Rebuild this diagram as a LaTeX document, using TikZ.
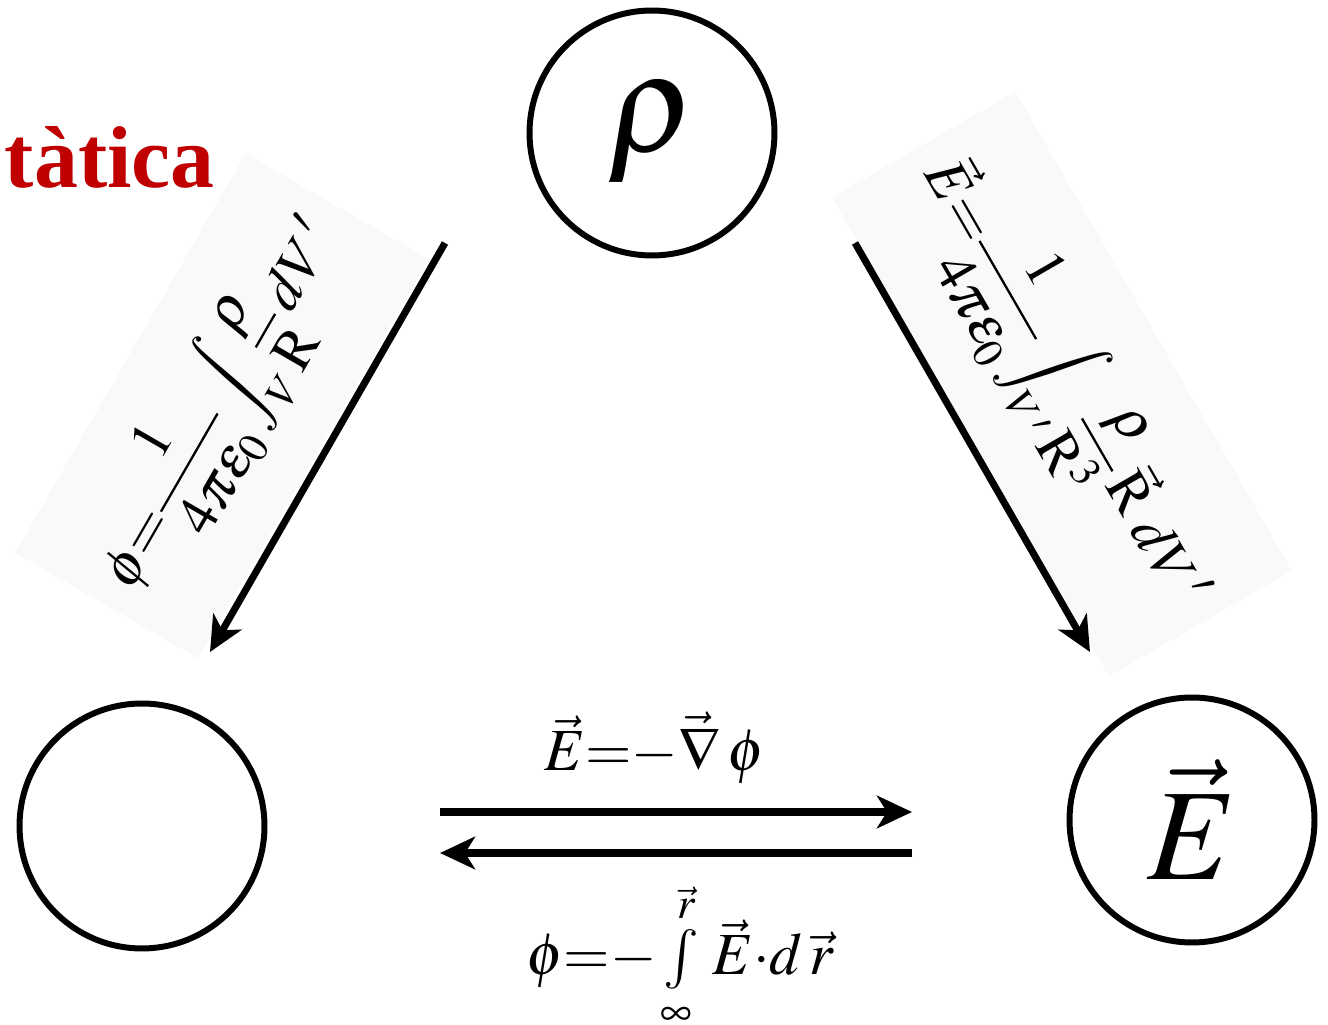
\documentclass[tikz,border=0pt]{standalone}
\usepackage{amsmath,amssymb}
\usepackage{mathptmx}
\usepackage[no-math]{fontspec}
\usepackage{tikz}
\usetikzlibrary{arrows.meta,positioning,calc}
\newfontfamily\titlefont{Liberation Serif}
\definecolor{cR}{HTML}{C00000}
\definecolor{cG}{HTML}{F9F9F9}
\tikzset{
  qty/.style={circle,draw=black,line width=3.4pt,minimum size=4.9cm,inner sep=0pt},
  flow/.style={-{Stealth[length=7mm,width=6.5mm,inset=2mm]},line width=4pt},
  rel/.style={fill=cG,inner xsep=14pt,inner ysep=24pt,font=\fontsize{33}{38}\selectfont},
  eqn/.style={inner sep=2pt,font=\fontsize{34}{40}\selectfont},
}

\begin{document}
\begin{tikzpicture}[x=0.02cm,y=0.02cm]
\useasboundingbox (0,0) rectangle (1328,1024);
% title, cut at the left edge
\node[anchor=base east,text=cR,font=\titlefont\bfseries\fontsize{50}{56}\selectfont,inner sep=0pt]
  (title) at (215,836) {tàtica};
% the three quantities
\node[qty,font=\fontsize{80}{90}\selectfont] (rho) at (652,891) {$\rho$};
\node[qty] (phi) at (142,198) {};
\node[qty,font=\fontsize{74}{84}\selectfont] (efield) at (1192,204) {$\vec{E}$};
% end points of the connectors
\coordinate (rp1) at (445,781);
\coordinate (rp2) at (210,372);
\coordinate (re1) at (855,781);
\coordinate (re2) at (1090,372);
\coordinate (pe1) at (440,212);
\coordinate (pe2) at (912,212);
\coordinate (ep1) at (912,171);
\coordinate (ep2) at (440,171);
% labels
\node[rel,rotate=60] (lrp) at (222,618)
  {$\displaystyle \phi{=}\frac{1}{4\pi\varepsilon_0}\int_V\frac{\rho}{\mathrm{R}}\,dV\,'$};
\node[rel,rotate=-60] (lre) at (1062,640)
  {$\displaystyle \vec{E}{=}\frac{1}{4\pi\varepsilon_0}\int_{V\,'}\frac{\rho}{\mathrm{R}^3}\,\vec{\mathrm{R}}\;dV\,'$};
\node[eqn] (lpe) at (655,276) {$\vec{E}{=}{-}\vec{\nabla}\,\phi$};
\node[eqn] (lep) at (680,68) {$\phi{=}{-}\textstyle\int\limits_{\infty}^{\vec{r}}\,\vec{E}{\cdot}d\,\vec{r}$};
% connectors
\draw[flow] (rp1) -- (rp2);
\draw[flow] (re1) -- (re2);
\draw[flow] (pe1) -- (pe2);
\draw[flow] (ep1) -- (ep2);
\end{tikzpicture}
\end{document}
